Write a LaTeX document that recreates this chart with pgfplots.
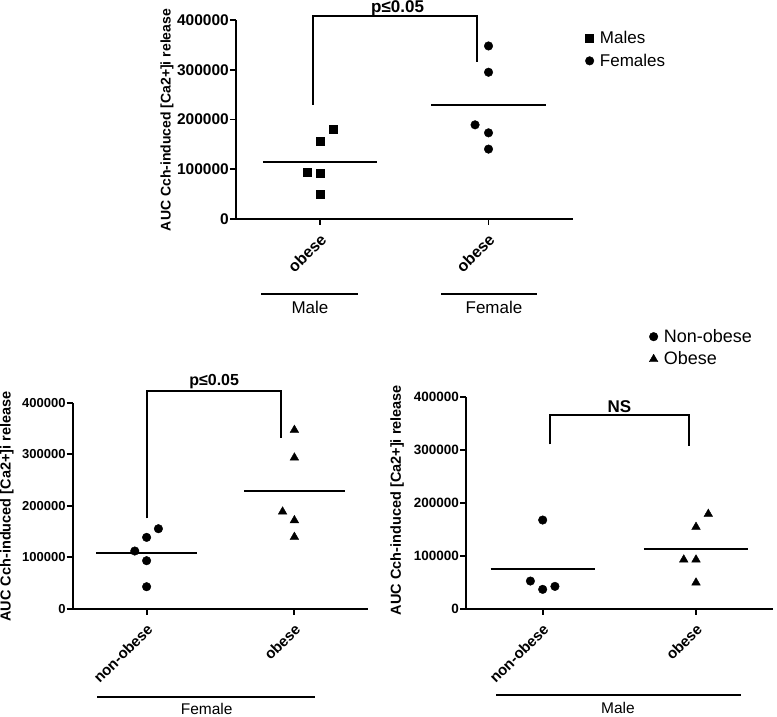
\documentclass[border=0pt]{standalone}
\usepackage{pgfplots}
\pgfplotsset{compat=1.18}
\usepackage{fontspec}
\setmainfont{Liberation Sans}

\pgfplotsset{
  gp/.style={
    scale only axis, xmin=0.5, xmax=2.5, ymin=0, ymax=400000,
    axis lines*=left,
    axis line style={line width=1.9pt},
    tick style={line width=1.9pt, black},
    tick align=outside, major tick length=6pt,
    xtick={1,2},
    ytick={0,100000,200000,300000,400000},
    yticklabels={0,100000,200000,300000,400000},
    scaled y ticks=false, clip=false,
    xticklabel style={xshift=4pt, yshift=-11pt, rotate=45, anchor=east, inner sep=1pt, font=\bfseries\fontsize{15}{17}\selectfont},
    yticklabel style={font=\bfseries\fontsize{13}{15}\selectfont, inner sep=1pt},
    legend cell align=left,
    legend image code/.code={\draw[##1] plot coordinates {(0pt,0pt)};},
  },
  meanline/.style={black, line width=1.9pt, no marks, forget plot},
}

\begin{document}
\begin{tikzpicture}
\useasboundingbox (0pt,0pt) rectangle (777pt,716pt);

% ---------------- top panel ----------------
\begin{axis}[gp, at={(236pt,497pt)}, anchor=south west, width=336.7pt, height=199pt,
  xticklabels={obese,obese},
  xticklabel style={font=\bfseries\fontsize{16}{18}\selectfont},
  yticklabel style={font=\bfseries\fontsize{15.5}{17}\selectfont},
  legend style={at={(1.037,0.852)}, anchor=west, draw=none, fill=none, inner sep=0pt,
    font=\fontsize{17}{19}\selectfont, row sep=5pt,
    /tikz/every odd column/.append style={column sep=4pt}}]
\addplot[only marks, mark=square*, mark size=4pt, black] coordinates {
  (1.08,180600) (1.0,155850) (0.92,94300) (1.0,93000) (1.0,50200)};
\addlegendentry{Males}
\addplot[only marks, mark=*, mark size=4.3pt, black] coordinates {
  (2.0,347800) (2.0,295000) (1.92,189300) (2.0,173200) (2.0,140500)};
\addlegendentry{Females}
\addplot[meanline] coordinates {(0.66,114800) (1.34,114800)};
\addplot[meanline] coordinates {(1.66,229200) (2.34,229200)};
\draw[line width=1.9pt] (axis cs:0.96,230000) |- (axis cs:1.93,408700) -- (axis cs:1.93,315000);
\node[anchor=base, font=\bfseries\fontsize{17}{19}\selectfont] at (axis cs:1.46,408700) [yshift=3.5pt] {p≤0.05};
\end{axis}

% ---------------- bottom left panel ----------------
\begin{axis}[gp, at={(72.7pt,107.3pt)}, anchor=south west, width=295.6pt, height=206pt,
  xticklabels={non-obese,obese}]
\addplot[only marks, mark=*, mark size=4.3pt, black] coordinates {
  (1.08,155300) (1.0,138500) (0.92,112000) (1.0,93200) (1.0,42700)};
\addplot[only marks, mark=triangle*, mark size=5pt, black] coordinates {
  (2.0,346900) (2.0,293200) (1.92,188300) (2.0,171500) (2.0,139200)};
\addplot[meanline] coordinates {(0.66,108300) (1.34,108300)};
\addplot[meanline] coordinates {(1.66,227800) (2.34,227800)};
\draw[line width=1.9pt] (axis cs:1.0,175400) |- (axis cs:1.912,423300) -- (axis cs:1.912,332000);
\node[anchor=base, font=\bfseries\fontsize{16}{18}\selectfont] at (axis cs:1.457,423300) [yshift=5pt] {p≤0.05};
\end{axis}

% ---------------- bottom right panel ----------------
\begin{axis}[gp, at={(466pt,107.3pt)}, anchor=south west, width=306.7pt, height=212pt,
  xticklabels={non-obese,obese},
  yticklabel style={font=\bfseries\fontsize{13.5}{15}\selectfont},
  legend style={at={(0.597,1.23)}, anchor=west, draw=none, fill=none, inner sep=0pt,
    font=\fontsize{18}{20}\selectfont, row sep=4pt,
    /tikz/every odd column/.append style={column sep=4pt}}]
\addplot[only marks, mark=*, mark size=4.3pt, black] coordinates {
  (1.0,167300) (0.92,52200) (1.0,36500) (1.08,42100)};
\addlegendentry{Non-obese}
\addplot[only marks, mark=triangle*, mark size=5pt, black] coordinates {
  (2.08,178600) (2.0,154100) (1.92,92500) (2.0,92500) (2.0,49100)};
\addlegendentry{Obese}
\addplot[meanline] coordinates {(0.66,74500) (1.34,74500)};
\addplot[meanline] coordinates {(1.66,113400) (2.34,113400)};
\draw[line width=1.9pt] (axis cs:1.05,310000) |- (axis cs:1.953,365400) -- (axis cs:1.953,307500);
\node[anchor=base, font=\bfseries\fontsize{17}{19}\selectfont] at (axis cs:1.5,365400) [yshift=3pt] {NS};
\end{axis}

% ---------------- y labels ----------------
\node[rotate=90, font=\bfseries\fontsize{14}{16}\selectfont] at (167pt,596pt) {AUC Cch-induced [Ca2+]i release};
\node[rotate=90, font=\bfseries\fontsize{14.5}{16}\selectfont] at (7pt,209.5pt) {AUC Cch-induced [Ca2+]i release};
\node[rotate=90, font=\bfseries\fontsize{14.5}{16}\selectfont] at (397pt,216pt) {AUC Cch-induced [Ca2+]i release};

% ---------------- group labels ----------------
\draw[line width=1.9pt] (261pt,422pt) -- (358pt,422pt);
\node[font=\fontsize{17}{19}\selectfont] at (310pt,409pt) {Male};
\draw[line width=1.9pt] (441pt,422pt) -- (537pt,422pt);
\node[font=\fontsize{17}{19}\selectfont] at (494pt,409pt) {Female};
\draw[line width=1.9pt] (97.3pt,19.3pt) -- (315pt,19.3pt);
\node[font=\fontsize{15.5}{17}\selectfont] at (206.7pt,7pt) {Female};
\draw[line width=1.9pt] (496pt,21pt) -- (741pt,21pt);
\node[font=\fontsize{15.5}{17}\selectfont] at (618pt,8pt) {Male};
\end{tikzpicture}
\end{document}
